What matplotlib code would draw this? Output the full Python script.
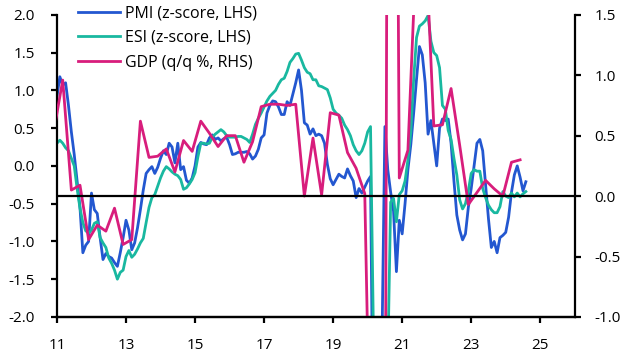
import numpy as np
import matplotlib
matplotlib.use('Agg')
import matplotlib.pyplot as plt

plt.rcParams['font.family'] = ['Open Sans', 'DejaVu Sans']

# monthly z-scores, Jan 2011 onwards
pmi = [0.92, 1.18, 1.07, 1.10, 0.80, 0.45, 0.15, -0.20, -0.55, -1.15,
       -1.05, -1.00, -0.36, -0.58, -0.63, -0.95, -1.24, -1.16, -1.20, -1.22,
       -1.28, -1.33, -1.15, -0.95, -0.72, -0.85, -1.11, -1.02, -0.82, -0.58,
       -0.32, -0.10, -0.05, -0.01, -0.10, -0.02, 0.10, 0.20, 0.15, 0.30,
       0.25, 0.04, 0.30, -0.05, -0.01, -0.19, -0.23, -0.16, 0.00, 0.25,
       0.31, 0.29, 0.28, 0.37, 0.41, 0.35, 0.37, 0.33, 0.36, 0.38,
       0.28, 0.15, 0.16, 0.18, 0.18, 0.18, 0.19, 0.16, 0.09, 0.13,
       0.22, 0.37, 0.41, 0.70, 0.80, 0.86, 0.85, 0.78, 0.68, 0.68,
       0.85, 0.80, 0.95, 1.10, 1.27, 1.00, 0.57, 0.54, 0.42, 0.49,
       0.40, 0.42, 0.40, 0.30, 0.02, -0.17, -0.25, -0.18, -0.11, -0.14,
       -0.16, -0.04, -0.13, -0.20, -0.42, -0.30, -0.36, -0.28, -0.20, -0.14,
       -4.0, -6.5, -4.5, -2.3, 0.52, -0.05, -0.35, -0.60, -1.40, -0.72,
       -0.90, -0.50, -0.05, 0.28, 0.70, 1.15, 1.58, 1.47, 1.10, 0.42,
       0.60, 0.30, 0.00, 0.50, 0.62, 0.60, 0.62, 0.30, -0.20, -0.65,
       -0.85, -0.98, -0.90, -0.55, -0.30, 0.00, 0.30, 0.35, 0.20, -0.25,
       -0.70, -1.08, -1.00, -1.15, -0.95, -0.92, -0.88, -0.68, -0.35, -0.12,
       0.00, -0.15, -0.33, -0.21]

esi = [0.30, 0.34, 0.30, 0.24, 0.20, 0.10, 0.00, -0.30, -0.56, -0.75,
       -0.86, -0.89, -0.85, -0.76, -0.74, -0.95, -1.02, -1.08, -1.22, -1.29,
       -1.38, -1.50, -1.41, -1.38, -1.20, -1.12, -1.21, -1.17, -1.10, -1.02,
       -0.96, -0.75, -0.55, -0.42, -0.38, -0.27, -0.16, -0.07, -0.01, -0.04,
       -0.08, -0.11, -0.13, -0.18, -0.31, -0.29, -0.24, -0.18, -0.09, 0.12,
       0.30, 0.30, 0.29, 0.30, 0.38, 0.42, 0.45, 0.48, 0.45, 0.40,
       0.38, 0.38, 0.38, 0.39, 0.39, 0.37, 0.35, 0.31, 0.42, 0.55,
       0.63, 0.70, 0.78, 0.86, 0.92, 0.96, 1.00, 1.08, 1.14, 1.16,
       1.25, 1.37, 1.42, 1.48, 1.49, 1.40, 1.30, 1.24, 1.22, 1.14,
       1.14, 1.06, 1.05, 1.03, 1.01, 0.90, 0.75, 0.70, 0.67, 0.63,
       0.54, 0.48, 0.40, 0.28, 0.20, 0.15, 0.20, 0.30, 0.45, 0.52,
       -2.2, -7.0, -6.0, -4.5, -3.5, -2.6, -0.48, -0.43, -0.74, -0.38,
       -0.33, -0.20, 0.08, 0.45, 1.15, 1.70, 1.85, 1.88, 1.92, 1.99,
       1.65, 1.50, 1.46, 1.30, 0.80, 0.75, 0.47, 0.35, 0.10, -0.12,
       -0.45, -0.57, -0.50, -0.33, -0.10, -0.05, -0.07, -0.07, -0.30, -0.42,
       -0.52, -0.58, -0.62, -0.62, -0.54, -0.34, -0.40, -0.42, -0.36, -0.41,
       -0.36, -0.41, -0.37, -0.34]

# quarterly GDP q/q %, 2010 Q4 onwards
gdp = [0.55, 0.96, 0.05, 0.09, -0.36, -0.24, -0.29, -0.10, -0.40, -0.36,
       0.62, 0.32, 0.33, 0.39, 0.20, 0.46, 0.37, 0.62, 0.52, 0.41,
       0.50, 0.50, 0.28, 0.45, 0.74, 0.76, 0.76, 0.75, 0.76, 0.00,
       0.48, 0.01, 0.69, 0.67, 0.36, 0.23, 0.02, -3.6, -11.1, 12.4,
       0.15, 0.38, 2.1, 2.2, 0.58, 0.59, 0.89, 0.42, -0.07, 0.03,
       0.13, 0.06, 0.00, 0.28, 0.30]

xticks = [2011, 2013, 2015, 2017, 2019, 2021, 2023, 2025]
xticklabels = ['11', '13', '15', '17', '19', '21', '23', '25']
lhs_ticks = [-2.0, -1.5, -1.0, -0.5, 0.0, 0.5, 1.0, 1.5, 2.0]
rhs_ticks = [-1.0, -0.5, 0.0, 0.5, 1.0, 1.5]

c_pmi = '#2357d0'
c_esi = '#19b8a0'
c_gdp = '#d81d7c'

# month / quarter positions in decimal years
x_m = 2011 + np.arange(len(pmi)) / 12.0
x_q = 2010 + 11 / 12.0 + np.arange(len(gdp)) / 4.0

fig = plt.figure(figsize=(6.33, 3.61), dpi=100)
ax = fig.add_axes([0.090, 0.122, 0.818, 0.837])
ax2 = ax.twinx()

ax.plot(x_m, pmi, color=c_pmi, lw=2.0, label='PMI (z-score, LHS)')
ax.plot(x_m, esi, color=c_esi, lw=2.0, label='ESI (z-score, LHS)')
ax2.plot(x_q, gdp, color=c_gdp, lw=2.0, label='GDP (q/q %, RHS)')
ax2.axhline(0, color='black', lw=1.6, zorder=5)

ax.set_xlim(2011, 2026)
ax.set_ylim(-2, 2)
ax2.set_ylim(-1, 1.5)
ax.set_xticks(xticks)
ax.set_xticklabels(xticklabels)
ax.set_yticks(lhs_ticks)
ax.set_yticklabels(['%.1f' % v for v in lhs_ticks])
ax2.set_yticks(rhs_ticks)
ax2.set_yticklabels(['%.1f' % v for v in rhs_ticks])

for a in (ax, ax2):
    a.spines['top'].set_visible(False)
    for s in a.spines.values():
        s.set_linewidth(1.6)
    a.tick_params(direction='out', length=4.5, width=1.6, labelsize=11)
ax.spines['right'].set_visible(False)
ax2.spines['left'].set_visible(False)
ax.tick_params(axis='y', pad=11.5)
ax2.tick_params(axis='y', pad=9.5)
ax.tick_params(axis='x', pad=11)

h1, l1 = ax.get_legend_handles_labels()
h2, l2 = ax2.get_legend_handles_labels()
ax2.legend(h1 + h2, l1 + l2, loc='upper left', bbox_to_anchor=(0.04, 1.032),
           frameon=False, fontsize=11.5, handlelength=2.65, handletextpad=0.3,
           labelspacing=0.55, borderaxespad=0, borderpad=0)

fig.savefig('out.png', dpi=100)
